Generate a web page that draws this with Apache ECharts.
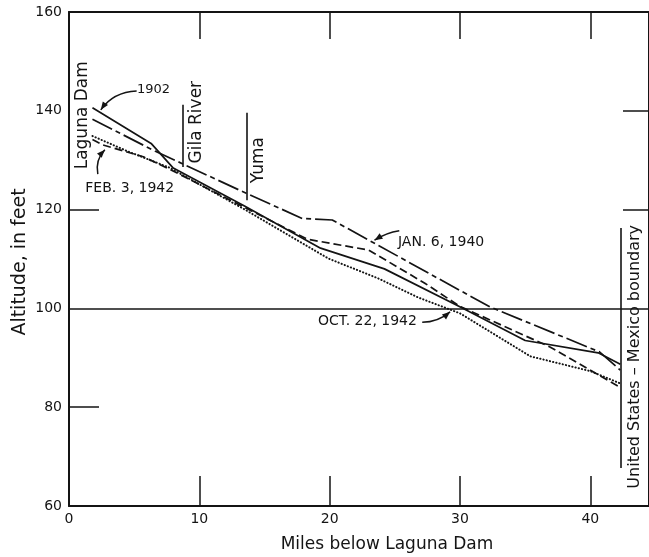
<!DOCTYPE html>
<html><head><meta charset="utf-8">
<script src="https://cdn.jsdelivr.net/npm/echarts@6/dist/echarts.min.js"></script>
<style>html,body{margin:0;padding:0;background:#fff}#c{width:649px;height:557px}</style>
</head><body><div id="c"></div>
<script>
// ---- data (miles below Laguna Dam, altitude in feet) ----
const miles1902 = [1.8, 6.3, 8.0, 13.5, 19.3, 24.2, 30.1, 35.0, 40.6, 42.3];
const alt1902   = [140.6, 133.4, 128.4, 120.7, 112.2, 108.0, 100.2, 93.5, 91.0, 88.7];

const milesJan1940 = [1.8, 6.4, 13.6, 17.9, 20.2, 28.3, 32.3, 40.7, 42.3];
const altJan1940   = [138.3, 132.1, 123.3, 118.2, 117.9, 106.1, 100.3, 91.2, 87.5];

const milesFeb1942 = [1.8, 2.6, 5.7, 7.7, 13.5, 18.3, 23.0, 27.3, 30.0, 36.9, 42.3];
const altFeb1942   = [134.2, 133.1, 130.7, 128.2, 120.4, 114.0, 111.8, 105.1, 100.4, 92.2, 84.0];

const milesOct1942 = [1.8, 4.5, 7.7, 13.5, 19.9, 23.7, 26.8, 30.0, 35.4, 40.0, 42.3];
const altOct1942   = [134.9, 131.8, 128.5, 120.0, 110.1, 106.1, 102.2, 99.0, 90.3, 87.3, 84.8];

const xTickLabels = [0, 10, 20, 30, 40];
const yTickLabels = [60, 80, 100, 120, 140, 160];

const landmarkNames = ['Gila River', 'Yuma', 'United States \u2013 Mexico boundary'];
const landmarkMiles = [8.7, 13.6, 42.3];
const landmarkLow   = [128.6, 121.9, 67.7];
const landmarkHigh  = [141.2, 139.6, 116.3];

const seriesNames = ['1902', 'JAN. 6, 1940', 'FEB. 3, 1942', 'OCT. 22, 1942'];

// ---- chart ----
const FONT = '"DejaVu Sans", sans-serif';
const INK = '#141414';
const chart = echarts.init(document.getElementById('c'), null, {renderer: 'canvas'});
const pairs = (xs, ys) => xs.map((x, i) => [x, ys[i]]);
const lineSeries = (name, xs, ys, dash, cap, w) => ({
  name, type: 'line', data: pairs(xs, ys), showSymbol: false, symbol: 'none',
  silent: true, z: 3,
  lineStyle: {color: INK, width: w, type: dash, cap: cap || 'butt', join: 'round'}
});

const refLines = landmarkMiles.map((m, i) => [{coord: [m, landmarkLow[i]]}, {coord: [m, landmarkHigh[i]]}]);

const s1902 = lineSeries(seriesNames[0], miles1902, alt1902, 'solid', 'butt', 1.7);
s1902.markLine = {
  silent: true, symbol: ['none', 'none'], label: {show: false},
  lineStyle: {color: INK, width: 1.6, type: 'solid'},
  emphasis: {disabled: true}, animation: false,
  data: [{yAxis: 100}].concat(refLines)
};

const axisLineStyle = {onZero: false, lineStyle: {color: INK, width: 2}};
const option = {
  animation: false,
  backgroundColor: '#fff',
  grid: {left: 69, top: 12, width: 583, height: 494},
  xAxis: [
    {type: 'value', min: 0, max: 44.5, position: 'bottom',
     axisLine: axisLineStyle,
     axisTick: {inside: true, length: 30, customValues: [10, 20, 30, 40], lineStyle: {color: INK, width: 1.5}},
     axisLabel: {customValues: xTickLabels, color: INK, fontFamily: FONT, fontSize: 14, margin: 6},
     splitLine: {show: false}},
    {type: 'value', min: 0, max: 44.5, position: 'top',
     axisLine: axisLineStyle,
     axisTick: {inside: true, length: 27, customValues: [10, 20, 30, 40], lineStyle: {color: INK, width: 1.5}},
     axisLabel: {show: false}, splitLine: {show: false}}
  ],
  yAxis: [
    {type: 'value', min: 60, max: 160, position: 'left',
     axisLine: axisLineStyle,
     axisTick: {inside: true, length: 30, customValues: [80, 120], lineStyle: {color: INK, width: 1.5}},
     axisLabel: {customValues: yTickLabels, color: INK, fontFamily: FONT, fontSize: 14, margin: 7},
     splitLine: {show: false}},
    {type: 'value', min: 60, max: 160, position: 'right',
     axisLine: axisLineStyle,
     axisTick: {inside: true, length: 26, customValues: [120, 140], lineStyle: {color: INK, width: 1.5}},
     axisLabel: {show: false}, splitLine: {show: false}}
  ],
  series: [
    s1902,
    lineSeries(seriesNames[1], milesJan1940, altJan1940, [22, 4, 5, 4], 'butt', 1.7),
    lineSeries(seriesNames[2], milesFeb1942, altFeb1942, [8, 4], 'butt', 1.7),
    lineSeries(seriesNames[3], milesOct1942, altOct1942, [0.3, 3], 'round', 2)
  ]
};
chart.setOption(option);

// ---- annotations anchored in data coordinates ----
const d2p = (x, y) => chart.convertToPixel({xAxisIndex: 0, yAxisIndex: 0}, [x, y]);
const g = [];
function text(str, x, y, size, rot) {
  const p = d2p(x, y);
  g.push({type: 'text', x: p[0], y: p[1], rotation: rot || 0, silent: true, z: 10,
    style: {text: str, font: size + 'px ' + FONT, fill: INK, align: 'center', verticalAlign: 'middle'}});
}
function arrow(s, c, e) {
  const a = d2p(s[0], s[1]), b = d2p(c[0], c[1]), t = d2p(e[0], e[1]);
  g.push({type: 'bezierCurve', silent: true, z: 10,
    shape: {x1: a[0], y1: a[1], x2: t[0], y2: t[1], cpx1: b[0], cpy1: b[1]},
    style: {stroke: INK, lineWidth: 1.5, fill: null}});
  const dx = t[0] - b[0], dy = t[1] - b[1], L = Math.hypot(dx, dy) || 1;
  const ux = dx / L, uy = dy / L, len = 8, hw = 3.2;
  const bx = t[0] - ux * len, by = t[1] - uy * len;
  g.push({type: 'polygon', silent: true, z: 10,
    shape: {points: [[t[0], t[1]], [bx - uy * hw, by + ux * hw], [bx + uy * hw, by - ux * hw]]},
    style: {fill: INK}});
}
const R = Math.PI / 2;
text('Laguna Dam', 1.07, 139.1, 17, R);
text(landmarkNames[0], 9.8, 137.7, 17, R);
text(landmarkNames[1], 14.55, 130.0, 17, R);
text(landmarkNames[2], 43.4, 90.2, 16, R);

text(seriesNames[0], 6.49, 144.2, 13);
text(seriesNames[2], 4.66, 124.4, 14);
text(seriesNames[1], 28.55, 113.4, 14);
text(seriesNames[3], 22.9, 97.45, 14);

arrow([5.19, 144.0], [3.4, 143.8], [2.44, 140.2]);
arrow([2.21, 127.2], [2.0, 130.0], [2.75, 132.1]);
arrow([25.34, 115.7], [24.35, 115.3], [23.44, 113.8]);
arrow([27.1, 97.2], [28.3, 97.2], [29.24, 99.3]);

// axis titles
g.push({type: 'text', x: 20, y: 262, rotation: R, silent: true,
  style: {text: 'Altitude, in feet', font: '19px ' + FONT, fill: INK, align: 'center', verticalAlign: 'middle'}});
g.push({type: 'text', x: 387, y: 545, silent: true,
  style: {text: 'Miles below Laguna Dam', font: '17px ' + FONT, fill: INK, align: 'center', verticalAlign: 'middle'}});

chart.setOption({graphic: {elements: g}});
</script>
</body></html>
